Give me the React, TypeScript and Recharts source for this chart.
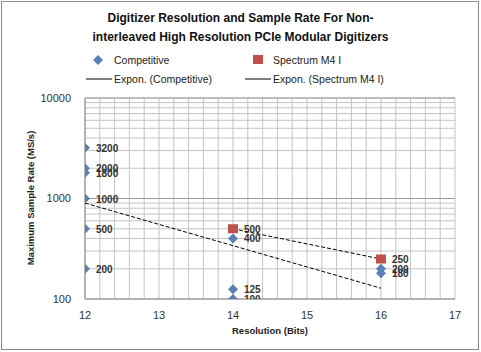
import React from "react";
import { ScatterChart, Scatter, XAxis, YAxis, CartesianGrid, ReferenceLine } from "recharts";

const competitive = [
  { x: 12, y: 3200 },
  { x: 12, y: 2000 },
  { x: 12, y: 1800 },
  { x: 12, y: 1000 },
  { x: 12, y: 500 },
  { x: 12, y: 200 },
  { x: 14, y: 400 },
  { x: 14, y: 125 },
  { x: 14, y: 100 },
  { x: 16, y: 200 },
  { x: 16, y: 180 },
];

const spectrum = [
  { x: 14, y: 500 },
  { x: 16, y: 250 },
];

// trend line endpoints
const trendCompetitive = [
  { x: 12, y: 900 },
  { x: 16, y: 128 },
];
const trendSpectrum = [
  { x: 14, y: 500 },
  { x: 16, y: 250 },
];

const xTicks = [
  12, 12.2, 12.4, 12.6, 12.8, 13, 13.2, 13.4, 13.6, 13.8, 14, 14.2, 14.4, 14.6, 14.8,
  15, 15.2, 15.4, 15.6, 15.8, 16, 16.2, 16.4, 16.6, 16.8, 17,
];
const yTicks = [
  100, 200, 300, 400, 500, 600, 700, 800, 900, 1000, 2000, 3000, 4000, 5000, 6000, 7000,
  8000, 9000, 10000,
];
const yLabels = [100, 1000, 10000];

const font = "'Liberation Sans', Arial, sans-serif";

const Diamond = (props: any) => {
  const { cx, cy, payload } = props;
  return (
    <g>
      <path d={`M${cx},${cy - 5} L${cx + 5},${cy} L${cx},${cy + 5} L${cx - 5},${cy} Z`} fill="#5a80b4" />
      <text x={cx + 11} y={cy + 4} fontSize={10} fontWeight="bold" fill="#333" fontFamily={font}>
        {payload.y}
      </text>
    </g>
  );
};

const Square = (props: any) => {
  const { cx, cy, payload } = props;
  return (
    <g>
      <rect x={cx - 5} y={cy - 4.5} width={10} height={9} fill="#c0504d" />
      <text x={cx + 11} y={cy + 4} fontSize={10} fontWeight="bold" fill="#333" fontFamily={font}>
        {payload.y}
      </text>
    </g>
  );
};

const NoShape = () => <g />;

export default function App() {
  return (
    <div style={{ position: "absolute", left: 0, top: 0, width: 481, height: 352, background: "#fff", fontFamily: font }}>
      <div style={{ position: "absolute", left: 1, top: 1, width: 476, height: 347, border: "1px solid #8a8a8a" }} />
      <div style={{ position: "absolute", left: 0, top: 9, width: 481, textAlign: "center", fontSize: 12, fontWeight: "bold", lineHeight: "19px", color: "#111" }}>
        Digitizer Resolution and Sample Rate For Non-
        <br />
        interleaved High Resolution PCIe Modular Digitizers
      </div>
      <ScatterChart width={481} height={352} margin={{ top: 98, right: 26, bottom: 23, left: 0 }} style={{ position: "absolute", left: 0, top: 0 }}>
        <CartesianGrid stroke="#c4c4c4" strokeWidth={1} />
        <XAxis
          type="number"
          dataKey="x"
          domain={[12, 17]}
          ticks={xTicks}
          interval={0}
          height={30}
          tickMargin={6}
          tickFormatter={(v: number) => (Number.isInteger(v) ? String(v) : "")}
          tick={{ fontSize: 11, fill: "#333", fontFamily: font }}
          tickLine={false}
          axisLine={{ stroke: "#888" }}
          allowDataOverflow
        />
        <YAxis
          type="number"
          dataKey="y"
          scale="log"
          domain={[100, 10000]}
          ticks={yTicks}
          interval={0}
          tickMargin={8}
          tickFormatter={(v: number) => (yLabels.includes(v) ? String(v) : "")}
          tick={{ fontSize: 11, fill: "#333", fontFamily: font }}
          tickLine={false}
          axisLine={{ stroke: "#888" }}
          width={85}
          allowDataOverflow
        />
        <ReferenceLine y={1000} stroke="#999" />
        <ReferenceLine y={10000} stroke="#999" />
        <Scatter data={trendCompetitive} line={{ stroke: "#000", strokeWidth: 1, strokeDasharray: "4 2" }} shape={NoShape} isAnimationActive={false} />
        <Scatter data={trendSpectrum} line={{ stroke: "#000", strokeWidth: 1, strokeDasharray: "4 2" }} shape={NoShape} isAnimationActive={false} />
        <Scatter data={competitive} shape={Diamond} isAnimationActive={false} />
        <Scatter data={spectrum} shape={Square} isAnimationActive={false} />
      </ScatterChart>
      <svg width={481} height={352} style={{ position: "absolute", left: 0, top: 0, pointerEvents: "none" }} fontFamily={font}>
        <path d="M98,55 L103,60 L98,65 L93,60 Z" fill="#5a80b4" />
        <text x={114} y={64} fontSize={10.5} fill="#222">Competitive</text>
        <rect x={253} y={55} width={10} height={9} fill="#c0504d" />
        <text x={273} y={64} fontSize={10.5} fill="#222">Spectrum M4 I</text>
        <line x1={86} y1={79} x2={112} y2={79} stroke="#000" />
        <text x={114} y={83} fontSize={10.5} fill="#222">Expon. (Competitive)</text>
        <line x1={245} y1={79} x2={271} y2={79} stroke="#000" />
        <text x={273} y={83} fontSize={10.5} fill="#222">Expon. (Spectrum M4 I)</text>
        <text x={270} y={334} textAnchor="middle" fontSize={9.5} fontWeight="bold" fill="#222">Resolution (Bits)</text>
        <text x={0} y={0} transform="translate(34,198) rotate(-90)" textAnchor="middle" fontSize={9.5} fontWeight="bold" fill="#222">
          Maximum Sample Rate (MS/s)
        </text>
      </svg>
    </div>
  );
}
